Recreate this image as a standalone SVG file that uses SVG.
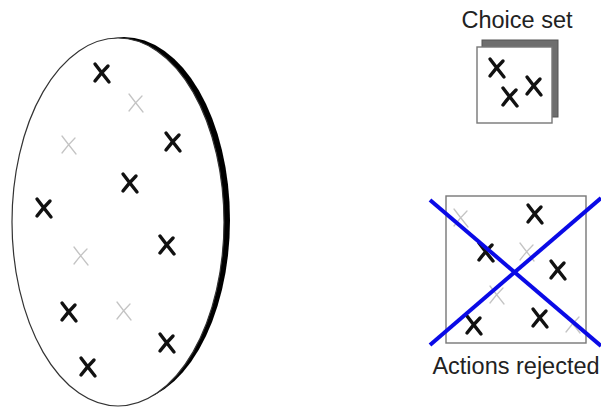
<svg xmlns="http://www.w3.org/2000/svg" width="601" height="407" viewBox="0 0 601 407">
<style>
.dk{fill:none;stroke:#111;stroke-width:3.4;stroke-linecap:round}
.lt{fill:none;stroke:#c4c4c4;stroke-width:1.3;stroke-linecap:round}
.lbl{font-family:"Liberation Sans",Arial,sans-serif;font-size:23.5px;fill:#222;text-anchor:middle}
.box{fill:#fff;stroke:#777;stroke-width:1.4}
.strike{stroke:#0a0ae6;stroke-width:4;stroke-linecap:butt}
</style>
<defs>
<path id="x" d="M-7,-9 Q-1,-1 7,9 M6,-7 Q-1,0 -7,8"/>
</defs>
<rect width="601" height="407" fill="#fff"/>
<g id="universe">
<ellipse cx="124" cy="220" rx="106" ry="183" fill="#000"/>
<ellipse cx="118" cy="222" rx="106" ry="184" fill="#fff" stroke="#333" stroke-width="1.2"/>
<g class="dk">
<use href="#x" x="102" y="73"/>
<use href="#x" x="173" y="142"/>
<use href="#x" x="130" y="183"/>
<use href="#x" x="44" y="208"/>
<use href="#x" x="167" y="245"/>
<use href="#x" x="69" y="312"/>
<use href="#x" x="167" y="343"/>
<use href="#x" x="88" y="367"/>
</g>
<g class="lt">
<use href="#x" x="136" y="103"/>
<use href="#x" x="69" y="145"/>
<use href="#x" x="81" y="256"/>
<use href="#x" x="124" y="311"/>
</g>
</g>
<g id="choice-set">
<text class="lbl" x="517" y="28">Choice set</text>
<rect x="482" y="40" width="76" height="77" fill="#6e6e6e" stroke="#555" stroke-width="1"/>
<rect class="box" x="477" y="47" width="75" height="76"/>
<g class="dk">
<use href="#x" x="497" y="68"/>
<use href="#x" x="510" y="97"/>
<use href="#x" x="534" y="86"/>
</g>
</g>
<g id="actions-rejected">
<rect class="box" x="446" y="196" width="140" height="147"/>
<g class="lt">
<use href="#x" x="461" y="218"/>
<use href="#x" x="527" y="252"/>
<use href="#x" x="497" y="295"/>
<use href="#x" x="573" y="324"/>
</g>
<g class="dk">
<use href="#x" x="535" y="214"/>
<use href="#x" x="486" y="252"/>
<use href="#x" x="558" y="270"/>
<use href="#x" x="474" y="325"/>
<use href="#x" x="540" y="318"/>
</g>
<text class="lbl" x="516" y="374">Actions rejected</text>
</g>
<g id="connectors">
<line class="strike" x1="430" y1="200" x2="601" y2="346"/>
<line class="strike" x1="430" y1="345" x2="601" y2="198"/>
</g>
</svg>
